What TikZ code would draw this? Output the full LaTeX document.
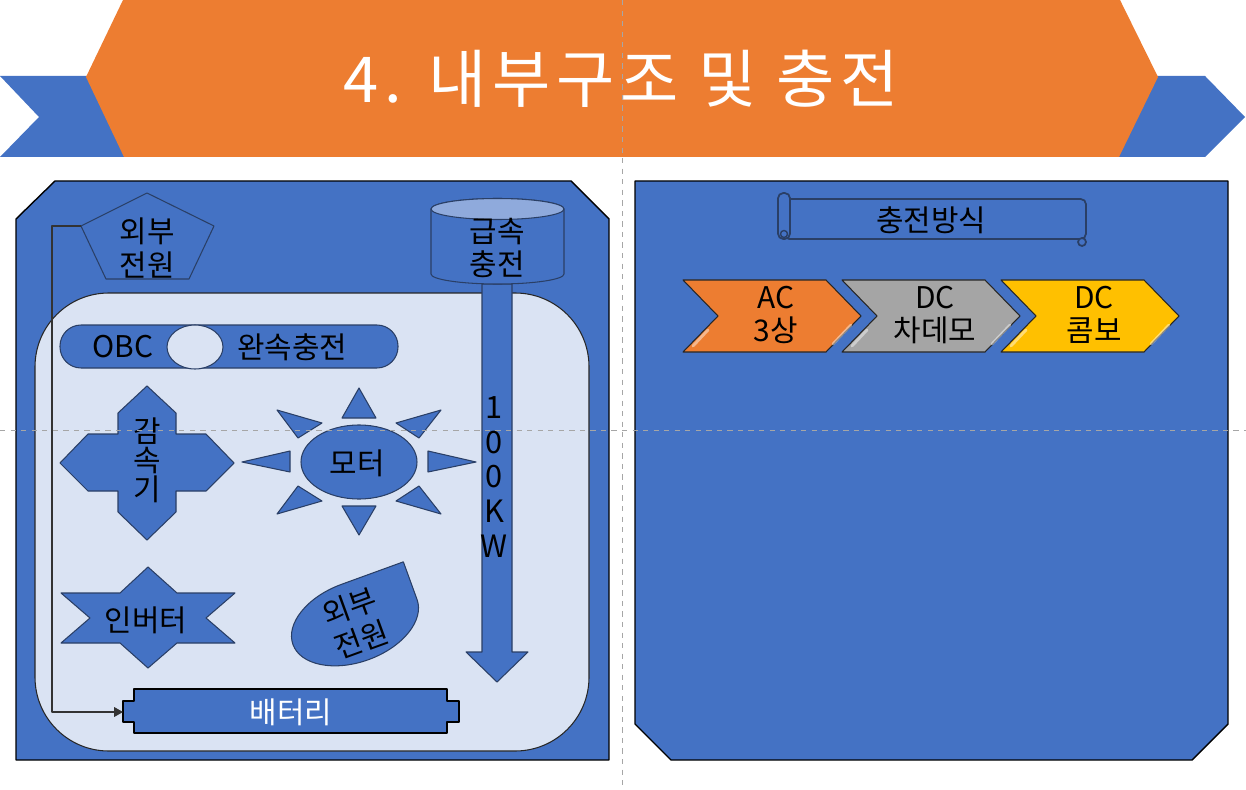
\documentclass[tikz,border=0pt]{standalone}
\usepackage{fontspec}
\setmainfont{Noto Sans CJK KR}
\newfontfamily\titlefont[LetterSpace=9]{Noto Sans CJK KR}
\usetikzlibrary{arrows.meta}
\definecolor{hdorange}{HTML}{ED7D31}
\definecolor{pnblue}{HTML}{4472C4}
\definecolor{pnlight}{HTML}{DAE3F3}
\definecolor{cyltop}{HTML}{8FAADC}
\definecolor{chgray}{HTML}{A5A5A5}
\definecolor{chgold}{HTML}{FFC000}
\definecolor{edge}{HTML}{2A3F66}
\begin{document}
\begin{tikzpicture}[x=0.02cm,y=-0.02cm,line join=round,>=Stealth,
    part/.style={fill=pnblue,draw=edge,line width=0.6pt},
    panel/.style={fill=pnblue,draw=black,line width=0.8pt},
    lbl/.style={font=\fontsize{17}{19}\selectfont,align=center,inner sep=0pt}]
				\useasboundingbox (0,0) rectangle (1246,790);
				
				% title band
				\fill[pnblue] (0,76) -- (110,76) -- (124,157) -- (0,157) -- (39,117) -- cycle;
				\fill[pnblue] (1140,76) -- (1205,76) -- (1245,117) -- (1205,157) -- (1110,157) -- cycle;
				\fill[hdorange] (123,0) -- (1120,0) -- (1158,77) -- (1119,157) -- (124,157) -- (86,77) -- cycle;
				\node[text=white,font=\titlefont\fontsize{36}{40}\selectfont] (title) at (621,79) {4. 내부구조 및 충전};
				
				% left panel
				\draw[panel] (16,219) -- (55,181) -- (571,181) -- (609,219) -- (609,760) -- (16,760) -- cycle;
				\draw[fill=pnlight,draw=black!85,line width=0.6pt,rounded corners=42pt] (35,293) rectangle (589,751);
				
				\draw[part] (147,193) -- (214,226) -- (189,279) -- (106,279) -- (81,226) -- cycle;
				\coordinate (srcL) at (81,226);
				\node[lbl] (src) at (147,248) {외부\\전원};
				
				\draw[part] (482,284) -- (512,284) -- (512,652) -- (528,652) -- (497,682) -- (466,652) -- (482,652) -- cycle;
				\node[lbl,font=\fontsize{17.5}{19.8}\selectfont] (kw) at (494,477) {1\\0\\0\\K\\W};
				
				\draw[part] (431,209) -- (431,274) arc[start angle=180,end angle=0,x radius=66.5,y radius=10] -- (564,209) arc[start angle=0,end angle=-180,x radius=66.5,y radius=10.5];
				\draw[fill=cyltop,draw=edge,line width=0.6pt] (497.5,209) ellipse[x radius=66.5,y radius=10.5];
				\node[lbl] (fast) at (497,248) {급속\\충전};
				
				\draw[part,rounded corners=12pt] (60,325) rectangle (398,368);
				\draw[fill=pnlight,draw=edge,line width=0.6pt] (195,347) ellipse[x radius=28,y radius=22];
				\node[lbl] (obc) at (123,347) {OBC};
				\node[lbl] (slow) at (292,347) {완속충전};
				
				\draw[part] (147,386) -- (176,413) -- (176,434) -- (206,434) -- (234,463) -- (206,491) -- (176,491) -- (176,512) -- (147,540) -- (118,512) -- (118,491) -- (88,491) -- (60,463) -- (88,434) -- (118,434) -- (118,413) -- cycle;
				\node[lbl,font=\fontsize{17}{16.5}\selectfont] (gear) at (147,460) {감\\속\\기};
				
				\draw[part] (359,462) ellipse[x radius=58,y radius=37];
				\draw[part] (359,388) -- (376,418) -- (342,418) -- cycle;
				\draw[part] (359,535) -- (376,506) -- (342,506) -- cycle;
				\draw[part] (242,462) -- (290,451) -- (290,472) -- cycle;
				\draw[part] (476,462) -- (428,451) -- (428,472) -- cycle;
				\draw[part] (277,410) -- (322,423) -- (298,438) -- cycle;
				\draw[part] (441,410) -- (396,423) -- (419,438) -- cycle;
				\draw[part] (277,514) -- (322,501) -- (298,486) -- cycle;
				\draw[part] (441,514) -- (396,501) -- (419,486) -- cycle;
				\node[lbl] (motor) at (357,463) {모터};
				
				\draw[part] (148,567) -- (177,593) -- (235,593) -- (206,618) -- (235,643) -- (177,643) -- (148,668) -- (120,643) -- (61,643) -- (90,618) -- (61,593) -- (120,593) -- cycle;
				\node[lbl] (inv) at (146,620) {인버터};
				
				\begin{scope}[shift={(355,622)},rotate=20]
					\draw[part] (66,0) arc[start angle=0,end angle=270,x radius=66,y radius=40] -- (66,-40) -- cycle;
					\node[lbl,rotate=20,font=\fontsize{17}{20}\selectfont] (ext) at (0,1) {외부\\전원};
				\end{scope}
				
				\draw[part,draw=black] (134,689) -- (447,689) -- (447,701) -- (459,701) -- (459,722) -- (447,722) -- (447,733) -- (134,733) -- (134,722) -- (123,722) -- (123,701) -- (134,701) -- cycle;
				\coordinate (batW) at (123,712);
				\node[lbl,text=white] (bat) at (291,712) {배터리};
				
				\draw[black!80,line width=0.6pt,-{Triangle[length=5pt,width=5.5pt]}] (srcL) -- ++(-29,0) |- (batW);
				
				% right panel
				\draw[panel] (635,181) -- (1228,181) -- (1228,724) -- (1192,760) -- (671,760) -- (635,724) -- cycle;
				
				\draw[part,line width=1pt,rounded corners=3pt] (784,199) rectangle (1086,239);
				\draw[part,line width=1pt,rounded corners=3pt] (778,193) rectangle (790,239);
				\draw[edge,line width=0.8pt] (784,234) circle[radius=3.5];
				\draw[part,line width=1pt] (1082,242) circle[radius=4];
				\node[lbl] (mode) at (931,220) {충전방식};
				
				\foreach \x/\col/\txt in {683/hdorange/{AC\\3상},842/chgray/{DC\\차데모},1001/chgold/{DC\\콤보}} {
					\draw[fill=\col,draw=black!85,line width=0.6pt] (\x,280) -- ++(143,0) -- ++(35,36) -- ++(-35,36) -- ++(-143,0) -- ++(35,-36) -- cycle;
					\draw[white,opacity=0.45,line width=1.6pt,line cap=round] (\x+10,346) -- ++(15,-16);
					\draw[white,opacity=0.45,line width=1.6pt,line cap=round] (\x+168,325) -- ++(-18,19);
					\node[lbl] at (\x+93,315) {\txt};
				}
				
				% guides
				\draw[gray!70,dashed,line width=0.5pt] (0,430) -- (1246,430);
				\draw[gray!70,dashed,line width=0.5pt] (622,0) -- (622,790);
			\end{tikzpicture}
\end{document}
